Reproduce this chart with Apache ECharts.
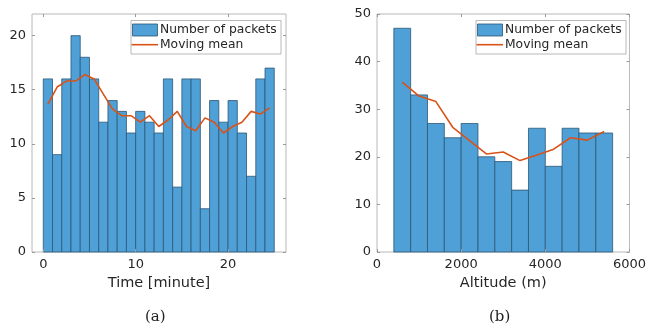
<!DOCTYPE html>
<html>
<head>
<meta charset="utf-8">
<script src="https://cdn.jsdelivr.net/npm/echarts@6/dist/echarts.min.js"></script>
<style>
html,body{margin:0;padding:0;background:#fff;}
#chart{width:649px;height:329px;}
</style>
</head>
<body>
<div id="chart"></div>
<script>
// ---- data ----
const timeEdges = [0,1,2,3,4,5,6,7,8,9,10,11,12,13,14,15,16,17,18,19,20,21,22,23,24,25];
const timeCounts = [16,9,16,20,18,16,12,14,13,11,13,12,11,16,6,16,16,4,14,12,14,11,7,16,17];
const timeCenters = [0.5,1.5,2.5,3.5,4.5,5.5,6.5,7.5,8.5,9.5,10.5,11.5,12.5,13.5,14.5,15.5,16.5,17.5,18.5,19.5,20.5,21.5,22.5,23.5,24.5];
const timeMovMean = [13.67,15.25,15.8,15.8,16.4,16.0,14.6,13.2,12.6,12.6,12.0,12.6,11.6,12.2,13.0,11.6,11.2,12.4,12.0,11.0,11.6,12.0,13.0,12.75,13.33];
const timeTicksX = [0,10,20];
const timeTicksY = [0,5,10,15,20];

const altEdges = [400,800,1200,1600,2000,2400,2800,3200,3600,4000,4400,4800,5200,5600];
const altCounts = [47,33,27,24,27,20,19,13,26,18,26,25,25];
const altCenters = [600,1000,1400,1800,2200,2600,3000,3400,3800,4200,4600,5000,5400];
const altMovMean = [35.67,32.75,31.6,26.2,23.4,20.6,21.0,19.2,20.4,21.6,24.0,23.5,25.33];
const altTicksX = [0,2000,4000,6000];
const altTicksY = [0,10,20,30,40,50];

const seriesNames = ['Number of packets','Moving mean'];
const axisTitles = ['Time [minute]','Altitude (m)'];
const captions = ['(a)','(b)'];

// ---- styling ----
const BAR_FILL = '#4fa0d7';
const BAR_EDGE = '#2c5775';
const LINE_COLOR = '#D95319';
const BOX = '#b8b8b8';
const TICK = '#9a9a9a';
const TXT = '#262626';
const FONT = 'DejaVu Sans';

function histData(edges, counts){
  return counts.map((c,i)=>[edges[i], edges[i+1], c]);
}
function zip(xs, ys){ return xs.map((x,i)=>[x, ys[i]]); }
const plainNum = v => String(v);

function renderBin(params, api){
  const p0 = api.coord([api.value(0), api.value(2)]);
  const p1 = api.coord([api.value(1), 0]);
  return {
    type:'rect',
    shape:{x:p0[0], y:p0[1], width:p1[0]-p0[0], height:p1[1]-p0[1]},
    style:{fill:BAR_FILL, stroke:BAR_EDGE, lineWidth:0.8}
  };
}

function tickCfg(ticks){
  return {show:true, inside:true, length:3, customValues:ticks, lineStyle:{color:TICK, width:1}};
}
const noLine = {show:false, onZero:false};
function mainX(grid, min, max, ticks, name){
  return {
    type:'value', gridIndex:grid, min:min, max:max, position:'bottom', z:10,
    axisLine:noLine,
    axisTick:tickCfg(ticks),
    axisLabel:{show:true, customValues:ticks, formatter:plainNum, margin:6, color:TXT, fontFamily:FONT, fontSize:13},
    splitLine:{show:false},
    name:name, nameLocation:'middle', nameGap:24,
    nameTextStyle:{color:TXT, fontFamily:FONT, fontSize:14.5}
  };
}
function mirrorX(grid, min, max, ticks){
  return {
    type:'value', gridIndex:grid, min:min, max:max, position:'top', z:10,
    axisLine:noLine,
    axisTick:tickCfg(ticks),
    axisLabel:{show:false}, splitLine:{show:false}
  };
}
function mainY(grid, min, max, ticks){
  return {
    type:'value', gridIndex:grid, min:min, max:max, position:'left', z:10,
    axisLine:noLine,
    axisTick:tickCfg(ticks),
    axisLabel:{show:true, customValues:ticks, formatter:plainNum, margin:6, color:TXT, fontFamily:FONT, fontSize:13},
    splitLine:{show:false}
  };
}
function mirrorY(grid, min, max, ticks){
  return {
    type:'value', gridIndex:grid, min:min, max:max, position:'right', z:10,
    axisLine:noLine,
    axisTick:tickCfg(ticks),
    axisLabel:{show:false}, splitLine:{show:false}
  };
}
function legendGraphic(x0){
  return {
    type:'group', left:x0, top:20, z:100,
    children:[
      {type:'rect', shape:{x:0.5, y:0.5, width:150, height:33.5}, style:{fill:'#fff', stroke:BOX, lineWidth:1}},
      {type:'rect', shape:{x:2, y:4, width:25, height:12}, style:{fill:BAR_FILL, stroke:BAR_EDGE, lineWidth:0.8}},
      {type:'line', shape:{x1:1, y1:24.7, x2:27.5, y2:24.7}, style:{stroke:LINE_COLOR, lineWidth:1.6}},
      {type:'text', x:29.5, y:10, style:{text:seriesNames[0], fill:TXT, font:'12.3px "DejaVu Sans"', verticalAlign:'middle'}},
      {type:'text', x:29.5, y:25, style:{text:seriesNames[1], fill:TXT, font:'12.3px "DejaVu Sans"', verticalAlign:'middle'}}
    ]
  };
}

const option = {
  animation:false,
  backgroundColor:'#fff',
  grid:[
    {left:32, top:14, width:254, height:238, show:true, borderColor:BOX, borderWidth:1, backgroundColor:'transparent'},
    {left:377, top:14, width:255, height:238, show:true, borderColor:BOX, borderWidth:1, backgroundColor:'transparent'}
  ],
  xAxis:[
    mainX(0, -1.22, 26.27, timeTicksX, axisTitles[0]),
    mirrorX(0, -1.22, 26.27, timeTicksX),
    mainX(1, 0, 6000, altTicksX, axisTitles[1]),
    mirrorX(1, 0, 6000, altTicksX)
  ],
  yAxis:[
    mainY(0, 0, 22, timeTicksY),
    mirrorY(0, 0, 22, timeTicksY),
    mainY(1, 0, 50, altTicksY),
    mirrorY(1, 0, 50, altTicksY)
  ],
  series:[
    {type:'custom', name:seriesNames[0], xAxisIndex:0, yAxisIndex:0, renderItem:renderBin,
     itemStyle:{color:BAR_FILL}, data:histData(timeEdges, timeCounts), encode:{x:[0,1], y:2}, z:2},
    {type:'line', name:seriesNames[1], xAxisIndex:0, yAxisIndex:0, symbol:'none',
     lineStyle:{color:LINE_COLOR, width:1.6}, itemStyle:{color:LINE_COLOR},
     data:zip(timeCenters, timeMovMean), z:3},
    {type:'custom', name:seriesNames[0], xAxisIndex:2, yAxisIndex:2, renderItem:renderBin,
     itemStyle:{color:BAR_FILL}, data:histData(altEdges, altCounts), encode:{x:[0,1], y:2}, z:2},
    {type:'line', name:seriesNames[1], xAxisIndex:2, yAxisIndex:2, symbol:'none',
     lineStyle:{color:LINE_COLOR, width:1.6}, itemStyle:{color:LINE_COLOR},
     data:zip(altCenters, altMovMean), z:3}
  ],
  graphic:[
    legendGraphic(129),
    legendGraphic(474),
    {type:'text', left:145, top:310, style:{text:captions[0], fill:'#222', font:'15px "DejaVu Serif"'}},
    {type:'text', left:489, top:310, style:{text:captions[1], fill:'#222', font:'15px "DejaVu Serif"'}}
  ]
};

const chart = echarts.init(document.getElementById('chart'), null, {renderer:'canvas'});
chart.setOption(option);
</script>
</body>
</html>
